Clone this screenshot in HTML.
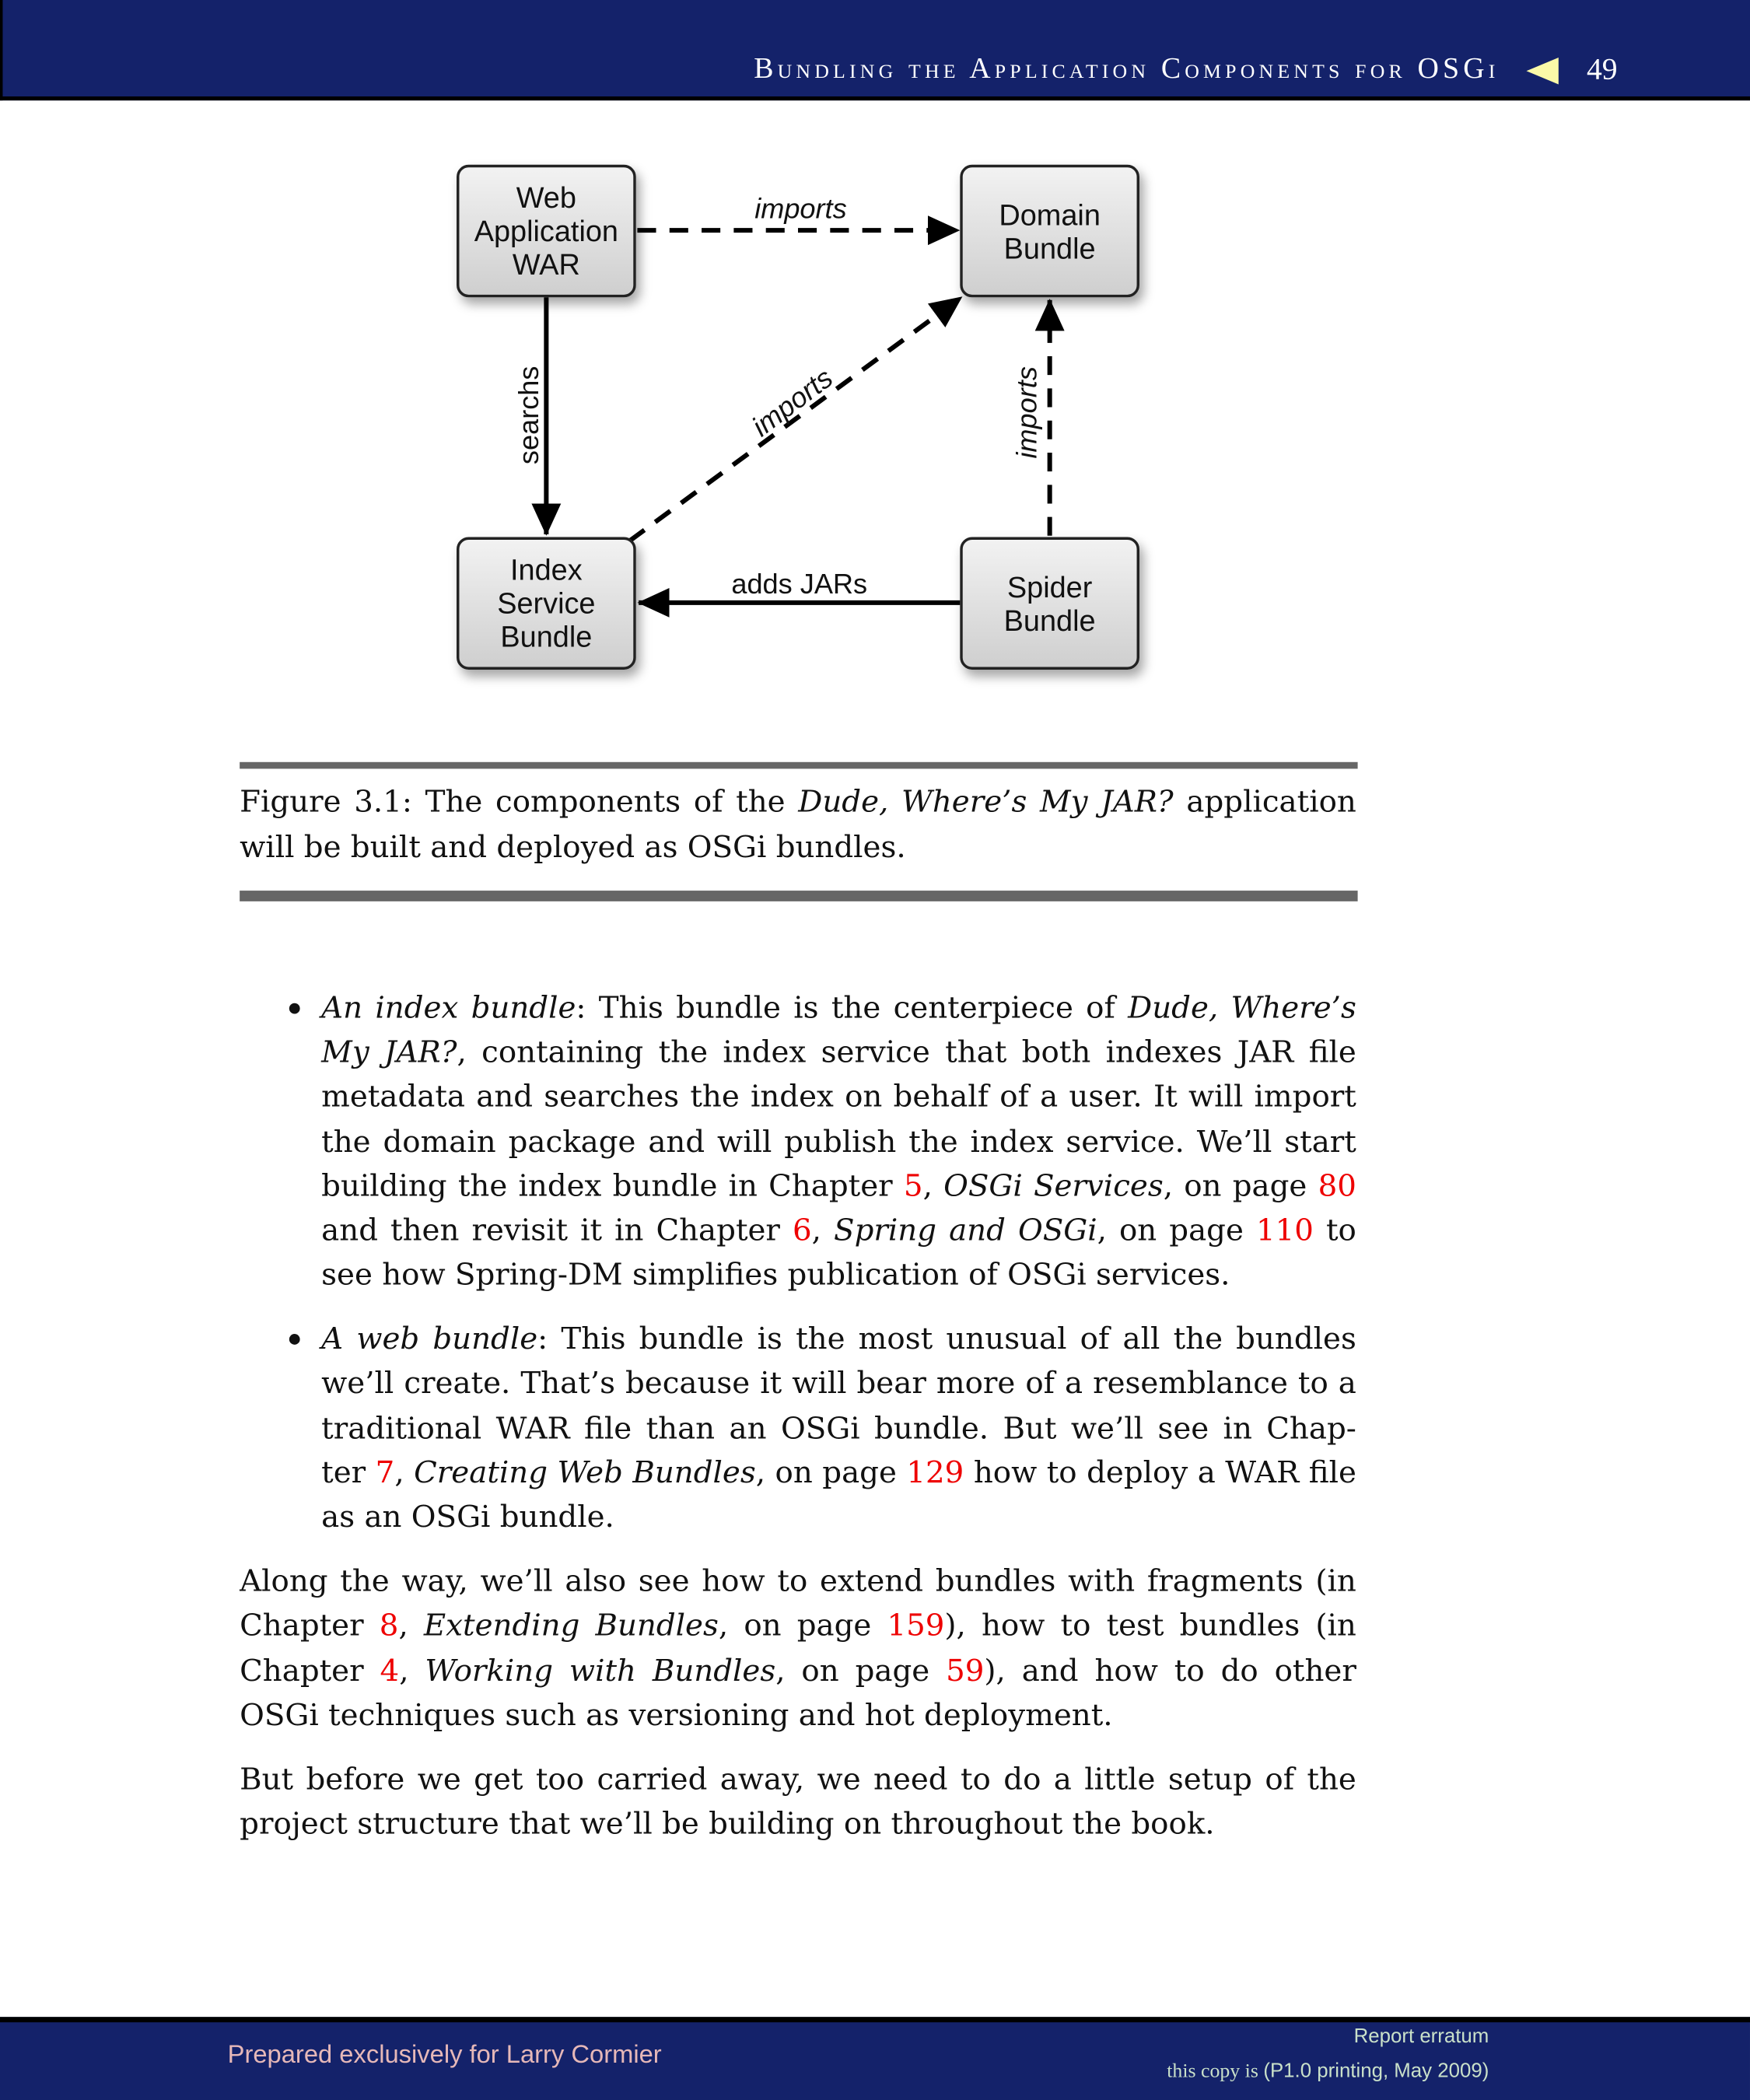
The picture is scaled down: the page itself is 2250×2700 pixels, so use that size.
<!DOCTYPE html>
<html><head><meta charset="utf-8">
<style>
html,body{margin:0;padding:0;background:#fff;}
body{width:2250px;height:2700px;overflow:hidden;position:relative;}
#p{position:absolute;left:0;top:0;width:1307px;height:1568px;transform:scale(1.72149,1.72194);transform-origin:0 0;font-family:"DejaVu Serif",serif;color:#111;}
.hd{position:absolute;left:0;top:0;width:1307px;height:72px;background:#14226a;border-bottom:3px solid #000;border-left:2px solid #000;box-sizing:content-box;}
.ft{position:absolute;left:0;top:1506px;width:1307px;height:62px;background:#14226a;border-top:4px solid #000;box-sizing:border-box;}
.l{position:absolute;height:33px;line-height:33px;font-size:22.5px;white-space:nowrap;text-align:justify;text-align-last:justify;}
.l.e{text-align-last:left;}
.a{left:179px;width:834px;}
.b{left:240px;width:773px;}
.r{color:#e00;}
.dot{position:absolute;left:216px;width:8px;height:8px;border-radius:50%;background:#111;}
.box{position:absolute;width:134px;height:99px;border:2px solid #222;border-radius:9px;background:linear-gradient(#f2f2f2,#cfcfcf);box-shadow:3px 5px 8px rgba(0,0,0,0.35);display:flex;align-items:center;justify-content:center;text-align:center;font-family:"Liberation Sans",sans-serif;font-size:22px;line-height:25px;color:#111;box-sizing:border-box;}
</style></head><body><div id="p">
<div class="hd"></div>
<div style="position:absolute;left:563px;top:38px;font-family:'Liberation Serif',serif;font-size:22px;color:#fff;letter-spacing:3px;white-space:nowrap;font-variant:small-caps;">Bundling the Application Components for OSGi</div>
<svg style="position:absolute;left:1140px;top:42px" width="26" height="22"><polygon points="0,11 24,1 24,21" fill="#fbf9a8"/></svg>
<div style="position:absolute;left:1185px;top:39px;font-family:'Liberation Serif',serif;font-size:23px;color:#fff;">49</div>

<svg style="position:absolute;left:0;top:0" width="1307" height="560">
<defs>
<marker id="ah" viewBox="0 0 24 22" refX="23" refY="11" markerWidth="24" markerHeight="22" orient="auto" markerUnits="userSpaceOnUse"><path d="M0,0 L24,11 L0,22z" fill="#000"/></marker></defs>
<g stroke="#000" stroke-width="3.5" fill="none">
<line x1="476" y1="172" x2="716" y2="172" stroke-dasharray="14,10" marker-end="url(#ah)"/>
<line x1="408" y1="222" x2="408" y2="399" marker-end="url(#ah)"/>
<line x1="470" y1="404" x2="718" y2="222" stroke-dasharray="14,10" marker-end="url(#ah)"/>
<line x1="784" y1="400" x2="784" y2="224" stroke-dasharray="14,10" marker-end="url(#ah)"/>
<line x1="717" y1="450" x2="477" y2="450" marker-end="url(#ah)"/>
</g>
<g font-family="Liberation Sans, sans-serif" font-size="21" fill="#111" text-anchor="middle">
<text x="598" y="163" font-style="italic">imports</text>
<text x="597" y="443">adds JARs</text>
<text transform="translate(402,310) rotate(-90)">searchs</text>
<text transform="translate(774,308) rotate(-90)" font-style="italic">imports</text>
<text transform="translate(596,306) rotate(-37)" font-style="italic">imports</text>
</g>
</svg>
<div class="box" style="left:341px;top:123px;">Web<br>Application<br>WAR</div>
<div class="box" style="left:717px;top:123px;">Domain<br>Bundle</div>
<div class="box" style="left:341px;top:401px;">Index<br>Service<br>Bundle</div>
<div class="box" style="left:717px;top:401px;">Spider<br>Bundle</div>

<div style="position:absolute;left:179px;top:569px;width:835px;height:5px;background:#666;"></div>
<div class="l a" style="top:583px">Figure 3.1: The components of the <i>Dude, Where’s My JAR?</i> application</div>
<div class="l a e" style="top:617px">will be built and deployed as OSGi bundles.</div>
<div style="position:absolute;left:179px;top:665px;width:835px;height:8px;background:#666;"></div>

<div class="dot" style="top:749px"></div>
<div class="l b" style="top:737px"><i>An index bundle</i>: This bundle is the centerpiece of <i>Dude, Where’s</i></div>
<div class="l b" style="top:770px"><i>My JAR?</i>, containing the index service that both indexes JAR file</div>
<div class="l b" style="top:803px">metadata and searches the index on behalf of a user. It will import</div>
<div class="l b" style="top:837px">the domain package and will publish the index service. We’ll start</div>
<div class="l b" style="top:870px">building the index bundle in Chapter <span class="r">5</span>, <i>OSGi Services</i>, on page <span class="r">80</span></div>
<div class="l b" style="top:903px">and then revisit it in Chapter <span class="r">6</span>, <i>Spring and OSGi</i>, on page <span class="r">110</span> to</div>
<div class="l b e" style="top:936px">see how Spring-DM simplifies publication of OSGi services.</div>

<div class="dot" style="top:996px"></div>
<div class="l b" style="top:984px"><i>A web bundle</i>: This bundle is the most unusual of all the bundles</div>
<div class="l b" style="top:1017px">we’ll create. That’s because it will bear more of a resemblance to a</div>
<div class="l b" style="top:1051px">traditional WAR file than an OSGi bundle. But we’ll see in Chap-</div>
<div class="l b" style="top:1084px">ter <span class="r">7</span>, <i>Creating Web Bundles</i>, on page <span class="r">129</span> how to deploy a WAR file</div>
<div class="l b e" style="top:1117px">as an OSGi bundle.</div>

<div class="l a" style="top:1165px">Along the way, we’ll also see how to extend bundles with fragments (in</div>
<div class="l a" style="top:1198px">Chapter <span class="r">8</span>, <i>Extending Bundles</i>, on page <span class="r">159</span>), how to test bundles (in</div>
<div class="l a" style="top:1232px">Chapter <span class="r">4</span>, <i>Working with Bundles</i>, on page <span class="r">59</span>), and how to do other</div>
<div class="l a e" style="top:1265px">OSGi techniques such as versioning and hot deployment.</div>

<div class="l a" style="top:1313px">But before we get too carried away, we need to do a little setup of the</div>
<div class="l a e" style="top:1346px">project structure that we’ll be building on throughout the book.</div>

<div class="ft"></div>
<div style="position:absolute;left:170px;top:1524px;font-family:'Liberation Sans',sans-serif;font-size:19px;color:#e6b8b8;white-space:nowrap;">Prepared exclusively for Larry Cormier</div>
<div style="position:absolute;right:195px;top:1512px;font-family:'Liberation Sans',sans-serif;font-size:15px;color:#c9e0c9;white-space:nowrap;">Report erratum</div>
<div style="position:absolute;right:195px;top:1538px;font-family:'Liberation Serif',serif;font-size:15px;color:#c9e0c9;white-space:nowrap;">this copy is <span style="font-family:'Liberation Sans',sans-serif">(P1.0 printing, May 2009)</span></div>
</div></body></html>
